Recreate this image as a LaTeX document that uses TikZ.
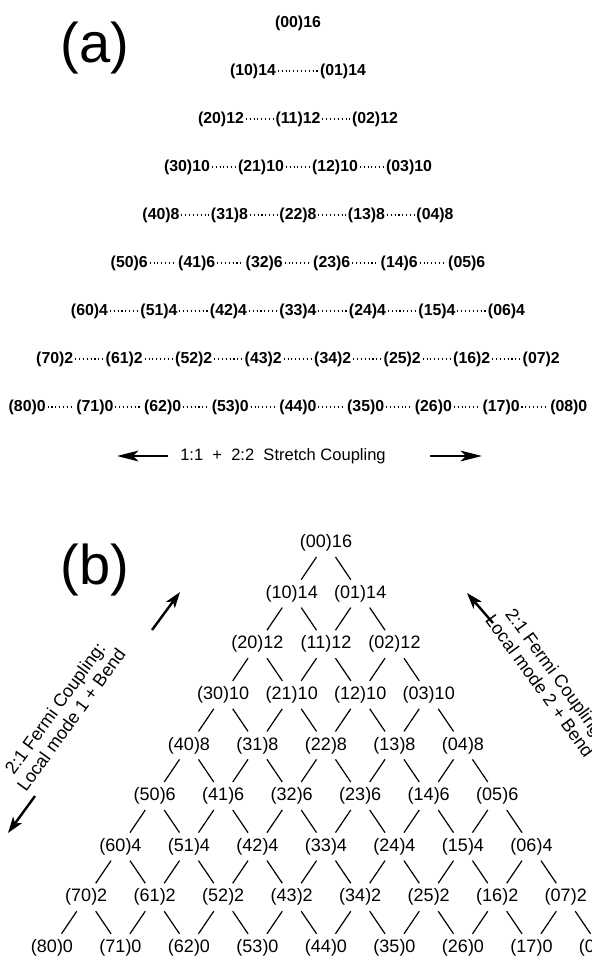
\documentclass[tikz,border=0pt]{standalone}
\usepackage{fontspec}
\setmainfont{Liberation Sans}
\usepackage{tikz}
\usetikzlibrary{
    arrows.meta
}

\begin{document}
\begin{tikzpicture}[
    x=0.75pt,
    y=-0.75pt,
    panel/.style={
        font=\fontsize{42}{46}\selectfont
    },
    stlabel/.style={
        inner sep=1.2pt,
        font=\fontsize{11.9}{14}\selectfont\bfseries
    },
    stlink/.style={
        line width=0.8pt,
        dash pattern=on 0.8pt off 2.1pt
    },
    felabel/.style={
        inner xsep=1pt,
        inner ysep=4pt,
        font=\fontsize{13.5}{16}\selectfont
    },
    feline/.style={
        line width=0.9pt
    },
    fetext/.style={
        align=center,
        font=\fontsize{13.5}{15}\selectfont
    },
    bigarrow/.style={
        line width=2.2pt,
        -{Stealth[length=16pt,width=8pt,inset=4pt]}
    },
    fearrow/.style={
        line width=1.8pt,
        -{Stealth[length=12pt,width=8pt,inset=3pt]}
    }
]
%
    \clip
    (0,0)
    rectangle
    (592,960);
%
    \node[
        panel
    ] (pa) at (95,48) {
        (a)
    };
%
    \node[
        panel
    ] (pb) at (95,570) {
        (b)
    };
%
    \foreach \n/\s in {0/0,1/90,2/77,3/74,4/68.5,5/67.5,6/69.5,7/69.5,8/67.7}{
        \pgfmathtruncatemacro{\e}{16-2*\n}
        \foreach \k in {0,...,\n}{
            \pgfmathtruncatemacro{\i}{\n-\k}
            \node[
                stlabel
            ] (st\i\k) at ({298+(\k-\n/2)*\s},{23+48*\n}) {
                (\i\k)\e
            };
            \ifnum\k>0
                \pgfmathtruncatemacro{\ip}{\i+1}
                \pgfmathtruncatemacro{\kp}{\k-1}
                \draw[
                    stlink
                ]
                (st\ip\kp)
                --
                (st\i\k);
            \fi
        }
    }
%
    \coordinate (sl1) at (168,456);
    \coordinate (sl2) at (117,456);
    \coordinate (sr1) at (430,456);
    \coordinate (sr2) at (482,456);
%
    \draw[
        bigarrow
    ]
    (sl1)
    --
    (sl2);
%
    \draw[
        bigarrow
    ]
    (sr1)
    --
    (sr2);
%
    \node[
        font=\fontsize{12.4}{14}\selectfont
    ] (stxt) at (283,456) {
        1:1~~+~~2:2~~Stretch Coupling
    };
%
    \foreach \n in {0,...,8}{
        \pgfmathtruncatemacro{\e}{16-2*\n}
        \foreach \k in {0,...,\n}{
            \pgfmathtruncatemacro{\i}{\n-\k}
            \node[
                felabel
            ] (fe\i\k) at ({326+(\k-\n/2)*68.5},{543+50.6*\n}) {
                (\i\k)\e
            };
        }
    }
%
    \foreach \n in {0,...,7}{
        \foreach \k in {0,...,\n}{
            \pgfmathtruncatemacro{\i}{\n-\k}
            \pgfmathtruncatemacro{\ip}{\i+1}
            \pgfmathtruncatemacro{\kp}{\k+1}
            \draw[
                feline
            ]
            (fe\i\k)
            --
            (fe\ip\k);
            \draw[
                feline
            ]
            (fe\i\k)
            --
            (fe\i\kp);
        }
    }
%
    \node[
        fetext,
        rotate=54
    ] (fleft) at (63,714) {
        2:1 Fermi Coupling:\\
        Local mode 1 + Bend
    };
%
    \node[
        fetext,
        rotate=-54
    ] (fright) at (548,680) {
        2:1 Fermi Coupling:\\
        Local mode 2 + Bend
    };
%
    \coordinate (fl1) at (152,630);
    \coordinate (fl2) at (180,592);
    \coordinate (fd1) at (35,796);
    \coordinate (fd2) at (8,833);
    \coordinate (fr1) at (493,623);
    \coordinate (fr2) at (467,593);
%
    \draw[
        fearrow
    ]
    (fl1)
    --
    (fl2);
%
    \draw[
        fearrow
    ]
    (fd1)
    --
    (fd2);
%
    \draw[
        fearrow
    ]
    (fr1)
    --
    (fr2);
%
\end{tikzpicture}
\end{document}
